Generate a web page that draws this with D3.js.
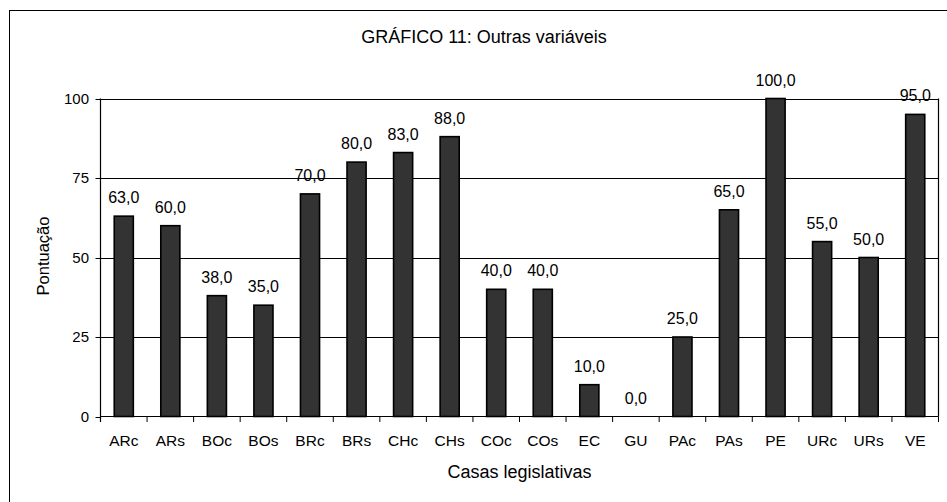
<!DOCTYPE html>
<html>
<head>
<meta charset="utf-8">
<script src="https://cdn.jsdelivr.net/npm/d3@7"></script>
<style>
  html, body { margin: 0; padding: 0; background: #fff; }
  svg { display: block; font-family: "Liberation Sans", Arial, sans-serif; }
</style>
</head>
<body>
<svg id="chart" width="947" height="502"></svg>
<script>
const categories = ["ARc","ARs","BOc","BOs","BRc","BRs","CHc","CHs","COc","COs","EC","GU","PAc","PAs","PE","URc","URs","VE"];
const values = [63, 60, 38, 35, 70, 80, 83, 88, 40, 40, 10, 0, 25, 65, 100, 55, 50, 95];
const yTicks = [0, 25, 50, 75, 100];
const title = "GRÁFICO 11: Outras variáveis";
const xTitle = "Casas legislativas";
const yTitle = "Pontuação";

(function () {
const svg = d3.select("#chart");
const pLeft = 100.5, pRight = 938.5, pTop = 98.5, pBottom = 416.5;

// chart frame
svg.append("rect").attr("x", 9.5).attr("y", 10.5).attr("width", 960).attr("height", 520)
  .attr("fill", "#fff").attr("stroke", "#000").attr("stroke-width", 1);

const x = d3.scaleBand().domain(categories).range([pLeft, pRight]).paddingInner(0.59).paddingOuter(0.295);
const y = d3.scaleLinear().domain([0, 100]).range([pBottom, pTop]);

// gridlines
svg.append("g").selectAll("line").data(yTicks.filter(d => d > 0)).join("line")
  .attr("x1", pLeft).attr("x2", pRight)
  .attr("y1", d => Math.round(y(d)) + 0.5).attr("y2", d => Math.round(y(d)) + 0.5)
  .attr("stroke", "#000").attr("stroke-width", 1);

// right border of plot area
svg.append("line").attr("x1", pRight).attr("x2", pRight).attr("y1", pTop).attr("y2", pBottom)
  .attr("stroke", "#000").attr("stroke-width", 1.2);

// bars
svg.append("g").selectAll("rect").data(values).join("rect")
  .attr("x", (d, i) => x(categories[i]))
  .attr("y", d => y(d))
  .attr("width", x.bandwidth())
  .attr("height", d => pBottom - y(d))
  .attr("fill", "#333333")
  .attr("stroke", d => d > 0 ? "#000" : "none")
  .attr("stroke-width", 1.6);

// value labels
svg.append("g").selectAll("text").data(values).join("text")
  .attr("x", (d, i) => x(categories[i]) + x.bandwidth() / 2)
  .attr("y", d => y(d) - 13)
  .attr("text-anchor", "middle")
  .attr("font-size", 16)
  .attr("fill", "#000")
  .text(d => d.toFixed(1).replace(".", ","));

// x axis
const xAxis = svg.append("g");
xAxis.append("line").attr("x1", pLeft).attr("x2", pRight).attr("y1", pBottom).attr("y2", pBottom)
  .attr("stroke", "#000").attr("stroke-width", 1.2);
const step = x.step();
const boundaries = d3.range(categories.length + 1).map(i => pLeft + i * step);
xAxis.selectAll("line.tick").data(boundaries).join("line").attr("class", "tick")
  .attr("x1", d => d).attr("x2", d => d).attr("y1", pBottom).attr("y2", pBottom + 5.5)
  .attr("stroke", "#000").attr("stroke-width", 1);
xAxis.selectAll("text").data(categories).join("text")
  .attr("x", d => x(d) + x.bandwidth() / 2)
  .attr("y", 446)
  .attr("text-anchor", "middle")
  .attr("font-size", 15.5)
  .text(d => d);

// y axis
const yAxis = svg.append("g");
yAxis.append("line").attr("x1", pLeft).attr("x2", pLeft).attr("y1", pTop).attr("y2", pBottom + 5.5)
  .attr("stroke", "#000").attr("stroke-width", 1.2);
yAxis.selectAll("line.tick").data(yTicks).join("line").attr("class", "tick")
  .attr("x1", pLeft - 5).attr("x2", pLeft)
  .attr("y1", d => Math.round(y(d)) + 0.5).attr("y2", d => Math.round(y(d)) + 0.5)
  .attr("stroke", "#000").attr("stroke-width", 1);
yAxis.selectAll("text").data(yTicks).join("text")
  .attr("x", 89)
  .attr("y", d => y(d))
  .attr("dy", "0.36em")
  .attr("text-anchor", "end")
  .attr("font-size", 15)
  .text(d => d);

// titles
svg.append("text").attr("x", 484).attr("y", 42.7).attr("text-anchor", "middle")
  .attr("font-size", 18).text(title);
svg.append("text").attr("x", (pLeft + pRight) / 2).attr("y", 477.5).attr("text-anchor", "middle")
  .attr("font-size", 18).text(xTitle);
svg.append("text").attr("transform", "translate(49,256) rotate(-90)").attr("text-anchor", "middle")
  .attr("font-size", 16.5).text(yTitle);
})();
</script>
</body>
</html>
